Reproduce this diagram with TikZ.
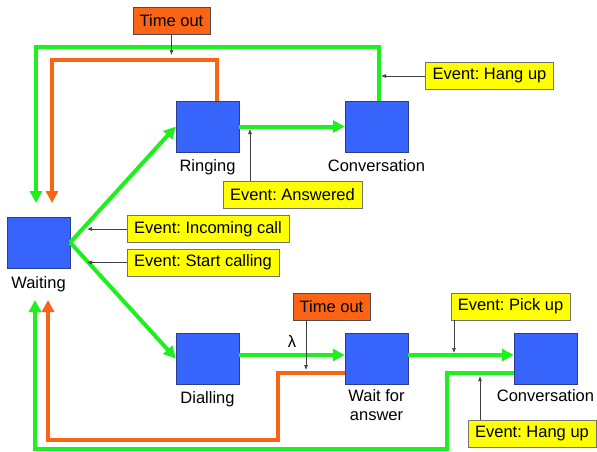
\documentclass[tikz,border=0pt]{standalone}
\usepackage{fontspec}
\setmainfont{Liberation Sans}
\usetikzlibrary{arrows.meta, shapes}

\definecolor{stblue}{RGB}{55,100,250}
\definecolor{stedge}{RGB}{45,60,140}
\definecolor{lime}{RGB}{30,240,30}
\definecolor{toorange}{RGB}{250,100,20}
\definecolor{evyellow}{RGB}{255,255,0}

\begin{document}
\frenchspacing
\begin{tikzpicture}[x=1pt, y=-1pt,
  every node/.style={font=\fontsize{16.5}{19}\selectfont},
  statebox/.style={rectangle, draw=stedge, fill=stblue, minimum width=63pt, minimum height=51pt, inner sep=0pt},
  evbox/.style={rectangle, draw=black!55, fill=evyellow, minimum height=27pt, inner xsep=7pt, inner ysep=0pt},
  tobox/.style={rectangle, draw=black!70, fill=toorange, minimum height=27pt, inner xsep=7pt, inner ysep=0pt},
  grn/.style={draw=lime, line width=4pt, -{Triangle[length=12pt, width=12pt]}},
  org/.style={draw=toorange, line width=4pt, -{Triangle[length=12pt, width=12pt]}},
  evarrow/.style={draw=black!75, line width=0.7pt, -{Latex[length=5pt, width=4pt]}}]
\useasboundingbox (0,0) rectangle (597,451);

\node[statebox, label={[label distance=5pt]below:Waiting}]      (waiting)  at (38.5,242.5) {};
\node[statebox, label={[label distance=4pt]below:Ringing}]      (ringing)  at (207.5,126.5) {};
\node[statebox, label={[label distance=4pt]below:Conversation}] (convA)    at (376.5,126.5) {};
\node[statebox, label={[label distance=4pt]below:Dialling}]     (dialling) at (207.5,358.5) {};
\node[statebox, label={[label distance=2pt, align=center]below:Wait for\\answer}] (waitans) at (376.5,358.5) {};
\node[statebox, label={[label distance=2pt]below:Conversation}] (convB)    at (545.5,358.5) {};

\node[tobox] (tmoutA)    at (171.5,20.5)  {Time out};
\node[evbox] (hangA)     at (489.5,76)    {Event: Hang up};
\node[evbox] (answered)  at (292.5,194.5) {Event: Answered};
\node[evbox] (incoming)  at (208,229)     {Event: Incoming call};
\node[evbox] (startcall) at (203,262.5)   {Event: Start calling};
\node[tobox] (tmoutB)    at (331.5,306.5) {Time out};
\node[evbox] (pickup)    at (510.5,306.5) {Event: Pick up};
\node[evbox] (hangB)     at (532,434)     {Event: Hang up};
\node (lam) at (292,342) {λ};

\coordinate (inG)  at (36,203);
\coordinate (inO)  at (52,203);
\coordinate (outG) at (35,300);
\coordinate (outO) at (48,300);

\draw[grn] (waiting.east) -- (ringing.west);
\draw[grn] (waiting.east) -- (dialling.west);
\draw[grn] (ringing.east) -- (convA.west);
\draw[grn] ([yshift=3.5pt]dialling.east) -- ([yshift=3.5pt]waitans.west);
\draw[grn] ([yshift=3.5pt]waitans.east) -- ([yshift=3.5pt]convB.west);

\draw[grn] ([xshift=2.5pt]convA.north) |- (inG |- 0,47) -- (inG);
\draw[org] ([xshift=9.5pt]ringing.north) |- (inO |- 0,60) -- (inO);
\draw[grn] ([yshift=-14pt]convB.west) -| (447,449) -| (outG);
\draw[org] ([yshift=-14pt]waitans.west) -| (278,440) -| (outO);

\draw[evarrow] (tmoutA.south) -- (tmoutA.south |- 0,55);
\draw[evarrow] (hangA.west) -- (381,76);
\draw[evarrow] (answered.north -| 250,0) -- (250,129);
\draw[evarrow] (incoming.west) -- (87,229);
\draw[evarrow] (startcall.west) -- (87,262.5);
\draw[evarrow] (tmoutB.south -| 306,0) -- (306,370);
\draw[evarrow] (pickup.south -| 454,0) -- (454,353);
\draw[evarrow] (hangB.north -| 480,0) -- (480,376);
\end{tikzpicture}
\end{document}
